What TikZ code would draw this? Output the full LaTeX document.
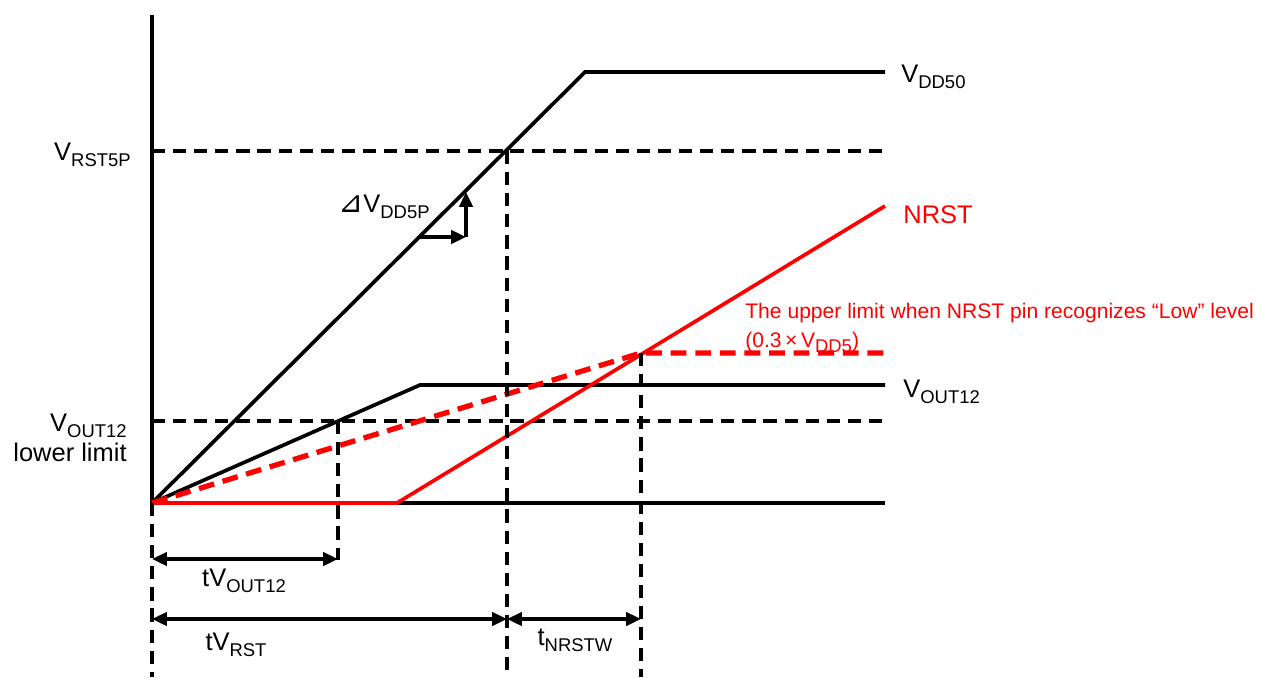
\documentclass[tikz,border=0pt]{standalone}
\usepackage{fontspec}
\setmainfont{Liberation Sans}
\newfontfamily\symfont{DejaVu Sans}
\usetikzlibrary{arrows.meta}
\newcommand{\subtxt}[1]{\raisebox{-0.45ex}{\fontsize{10.5}{12}\selectfont #1}}
\tikzset{
  sig/.style={line width=2.1pt, black},
  redsig/.style={line width=2.1pt, red},
  lvl/.style={line width=2.1pt, black, dash pattern=on 7.5pt off 4.5pt},
  redlvl/.style={line width=3pt, red, dash pattern=on 9pt off 5pt},
  tip/.style={-{Triangle[length=8.5pt,width=7.5pt]}},
  dim/.style={line width=2.2pt, {Triangle[length=8.5pt,width=7.5pt]}-{Triangle[length=8.5pt,width=7.5pt]}},
  lbl/.style={font=\fontsize{14.5}{17}\selectfont, inner sep=0pt},
  note/.style={lbl, anchor=west, red, font=\fontsize{12}{15}\selectfont}
}
\begin{document}
\begin{tikzpicture}[x=0.02cm, y=0.02cm]
  \useasboundingbox (0,0) rectangle (1263,677);

  % Ejes
  \draw[sig] (152,662) -- (152,174) -- (885,174);

  % Niveles de referencia
  \draw[lvl] (152,526) -- (885,526);
  \draw[lvl] (152,256) -- (885,256);
  \node[lbl, anchor=east] at (131,522) {V\subtxt{RST5P}};
  \node[lbl, anchor=east, align=right] at (127,239) {V\subtxt{OUT12}\\lower limit};

  % V_DD50
  \draw[sig] (152,174) -- (585,605) -- (885,605);
  \node[lbl, anchor=west] at (901,600) {V\subtxt{DD50}};

  % Pendiente dV_DD5P
  \coordinate (dv0) at (419,440);
  \coordinate (dv1) at (466,440);
  \coordinate (dv2) at (466,485);
  \draw[line width=2.2pt, tip] (dv0) -- (dv1);
  \draw[line width=2.2pt, tip] (dv1) -- (dv2);
  \node[lbl, anchor=west] at (338,470) {{\symfont\fontsize{17}{17}\selectfont ⊿}V\subtxt{DD5P}};

  % V_OUT12
  \draw[sig] (152,174) -- (420,292) -- (885,292);
  \node[lbl, anchor=west] at (903,285) {V\subtxt{OUT12}};

  % NRST
  \draw[redsig] (152,174) -- (397,174) -- (885,471);
  \node[lbl, anchor=west, red] at (903,462) {NRST};

  % Limite superior de nivel bajo
  \draw[redlvl] (152,174) -- (641,324) -- (885,324);
  \node[note] at (745,364) {The upper limit when NRST pin recognizes “Low” level};
  \node[note] at (745,335) {(0.3\,×\,V\subtxt{DD5})};

  % Lineas verticales
  \draw[lvl] (152,174) -- (152,0);
  \draw[lvl] (338,256) -- (338,117);
  \draw[lvl] (507,526) -- (507,0);
  \draw[lvl] (641,324) -- (641,0);

  % Tiempos
  \draw[dim] (152,118) -- (338,118);
  \node[lbl] at (244,96) {tV\subtxt{OUT12}};
  \draw[dim] (152,58) -- (507,58);
  \node[lbl] at (236,32) {tV\subtxt{RST}};
  \draw[dim] (507,58) -- (641,58);
  \node[lbl] at (575,37) {t\subtxt{NRSTW}};
\end{tikzpicture}
\end{document}
